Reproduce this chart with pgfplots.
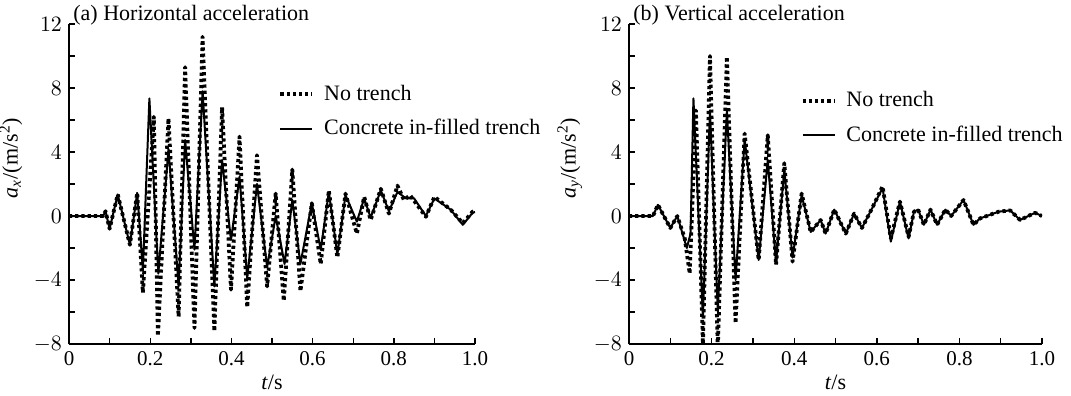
\documentclass[border=0pt]{standalone}
\usepackage{pgfplots}
\pgfplotsset{compat=1.18}
\usepackage{fontspec}
\setmainfont{Liberation Serif}

\pgfplotsset{
  myax/.style={
    scale only axis, width=203pt, height=160pt,
    xmin=0, xmax=1, ymin=-8, ymax=12,
    axis x line*=bottom, axis y line*=left,
    axis line style={line width=1pt, black},
    tick align=inside,
    xtick={0,0.2,0.4,0.6,0.8,1}, xticklabels={0,0.2,0.4,0.6,0.8,1.0},
    minor xtick={0.1,0.3,0.5,0.7,0.9},
    ytick={-8,-4,0,4,8,12}, minor ytick={-6,-2,2,6,10},
    major tick length=2.8pt, minor tick length=2.8pt,
    every tick/.style={line width=0.7pt, black},
    ticklabel style={font=\fontsize{10.5}{12}\selectfont},
    xlabel={\textit{t}/s},
    xlabel style={font=\fontsize{11}{12}\selectfont, yshift=2pt},
    ylabel style={font=\fontsize{11}{12}\selectfont, yshift=-1pt, xshift=13pt},
    legend style={draw=none, fill=none, font=\fontsize{11}{12}\selectfont,
      row sep=4pt, anchor=north west, inner xsep=0pt,
      /tikz/every even column/.style={column sep=0pt},
      /tikz/every odd column/.style={column sep=3pt}},
    legend image code/.code={\draw[#1] (0cm,0cm) -- (0.56cm,0cm);},
    legend cell align=left,
    every axis plot/.append style={line join=round},
  },
  nt/.style={black, line width=1.9pt, dash pattern=on 1.6pt off 1.5pt},
  ct/.style={black, line width=1pt},
}

\pgfplotstableread{
t y
0 0
0.05 0
0.084 0
0.09 0.3
0.10 -0.8
0.12 1.35
0.15 -1.8
0.168 1.45
0.182 -4.8
0.209 6.2
0.219 -7.5
0.245 6.1
0.27 -6.3
0.286 9.3
0.309 -7.0
0.329 11.2
0.358 -7.2
0.377 6.8
0.399 -4.6
0.42 4.96
0.439 -5.7
0.463 3.8
0.488 -4.4
0.509 1.4
0.529 -5.3
0.55 2.9
0.57 -4.7
0.598 0.8
0.62 -3.0
0.64 1.6
0.661 -2.6
0.681 1.4
0.709 -1.1
0.727 1.2
0.743 -0.25
0.768 1.7
0.788 0.15
0.809 1.9
0.825 1.0
0.84 1.3
0.879 -0.05
0.9 1.2
0.94 0.4
0.97 -0.45
0.994 0.27
1.0 0.3
}\axnone

\pgfplotstableread{
t y
0 0
0.084 0
0.09 0.3
0.10 -0.8
0.12 1.35
0.15 -1.8
0.168 1.45
0.182 -3.4
0.198 7.35
0.22 -3.6
0.245 4.2
0.27 -4.4
0.286 4.75
0.309 -2.1
0.329 7.8
0.358 -4.4
0.377 3.5
0.399 -1.5
0.42 2.45
0.439 -3.9
0.463 2.0
0.488 -3.2
0.509 0.0
0.531 -3.0
0.55 1.0
0.57 -3.0
0.598 0.8
0.62 -2.1
0.64 1.5
0.661 -2.4
0.681 1.3
0.709 -0.35
0.727 1.1
0.743 -0.1
0.768 1.6
0.788 0.3
0.809 1.5
0.83 1.1
0.85 1.1
0.879 0.0
0.9 1.1
0.94 0.4
0.97 -0.55
0.994 0.2
1.0 0.25
}\axcon

\pgfplotstableread{
t y
0 0
0.058 0
0.07 0.7
0.1 -0.75
0.117 0
0.135 -1.4
0.147 -3.6
0.162 6.6
0.179 -8.0
0.196 10.0
0.215 -8.3
0.237 9.95
0.258 -6.7
0.28 5.15
0.314 -2.75
0.336 5.05
0.356 -3.05
0.376 3.3
0.396 -2.85
0.418 1.4
0.44 -1.0
0.464 -0.25
0.476 -1.1
0.497 0.4
0.525 -1.1
0.545 0.15
0.564 -0.75
0.589 0.5
0.614 1.85
0.634 -1.4
0.656 0.9
0.677 -1.3
0.69 0.27
0.70 0.4
0.714 -0.55
0.73 0.4
0.746 -0.55
0.766 0.4
0.78 0.0
0.81 1.0
0.834 -0.55
0.85 -0.15
0.895 0.27
0.923 0.35
0.947 -0.25
0.983 0.2
1.0 0
}\aynone

\pgfplotstableread{
t y
0 0
0.058 0
0.07 0.7
0.1 -0.75
0.117 0
0.14 -2.0
0.149 -1.1
0.156 7.35
0.179 -6.3
0.196 6.6
0.215 -6.0
0.237 6.6
0.258 -4.0
0.28 4.8
0.314 -2.75
0.336 3.5
0.356 -2.9
0.376 2.9
0.396 -2.6
0.418 1.3
0.44 -1.0
0.464 -0.25
0.476 -1.1
0.497 0.4
0.525 -1.1
0.545 0.15
0.564 -0.75
0.589 0.5
0.614 1.75
0.634 -1.6
0.656 0.9
0.677 -1.4
0.69 0.27
0.70 0.4
0.714 -0.55
0.73 0.4
0.746 -0.55
0.766 0.4
0.78 0.0
0.81 1.0
0.834 -0.55
0.85 -0.15
0.895 0.27
0.923 0.35
0.947 -0.25
0.983 0.2
1.0 0
}\aycon

\begin{document}
\begin{tikzpicture}
\useasboundingbox (-34.5pt,-26pt) rectangle (501pt,172pt);
\begin{axis}[myax, name=A, at={(0,0)}, anchor=south west,
  ylabel={\textit{a}\textsubscript{\textit{x}}/(m/s\textsuperscript{2})},
  legend style={at={(rel axis cs:0.515,0.835)}}]
  \addplot[nt] table {\axnone};
  \addlegendentry{No trench}
  \addplot[ct] table {\axcon};
  \addlegendentry{Concrete in-filled trench}
\end{axis}
\node[anchor=base west, font=\fontsize{11}{12}\selectfont, inner sep=0pt]
  at ([xshift=2pt,yshift=2pt]A.north west) {(a) Horizontal acceleration};
\begin{axis}[myax, name=B, at={(280pt,0)}, anchor=south west, width=206.5pt,
  ylabel={\textit{a}\textsubscript{\textit{y}}/(m/s\textsuperscript{2})},
  legend style={at={(rel axis cs:0.415,0.815)}}]
  \addplot[nt] table {\aynone};
  \addlegendentry{No trench}
  \addplot[ct] table {\aycon};
  \addlegendentry{Concrete in-filled trench}
\end{axis}
\node[anchor=base west, font=\fontsize{11}{12}\selectfont, inner sep=0pt]
  at ([xshift=2pt,yshift=2pt]B.north west) {(b) Vertical acceleration};
\end{tikzpicture}
\end{document}
